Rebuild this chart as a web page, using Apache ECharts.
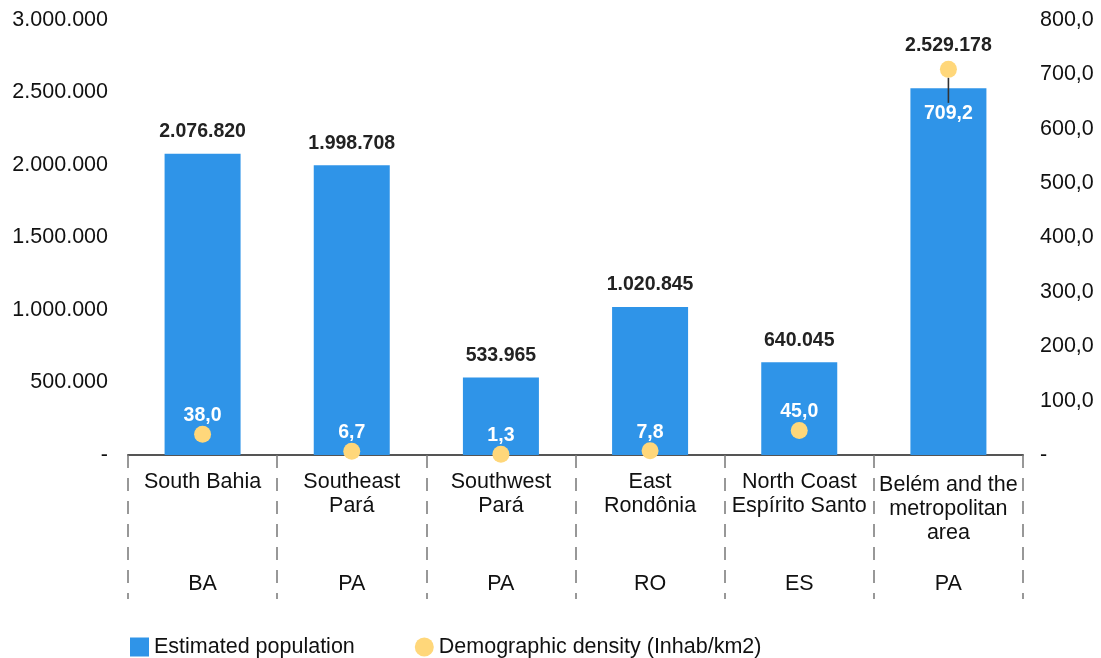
<!DOCTYPE html>
<html>
<head>
<meta charset="utf-8">
<style>
  html, body { margin: 0; padding: 0; background: #fff; }
  #chart { width: 1101px; height: 658px; }
</style>
<script src="https://cdn.jsdelivr.net/npm/echarts@6/dist/echarts.min.js"></script>
</head>
<body>
<div id="chart"></div>
<script>
// Regions and their states
const regions = ['South Bahia', 'Southeast\nPará', 'Southwest\nPará', 'East\nRondônia', 'North Coast\nEspírito Santo', 'Belém and the\nmetropolitan\narea'];
const states = ['BA', 'PA', 'PA', 'RO', 'ES', 'PA'];

// Estimated population (left axis) and demographic density (right axis)
const population = [2076820, 1998708, 533965, 1020845, 640045, 2529178];
const density = [38.0, 6.7, 1.3, 7.8, 45.0, 709.2];

const FONT = '"Liberation Sans", Arial, Helvetica, sans-serif';
const BAR_COLOR = '#2f94e8';
const DOT_COLOR = '#ffd77a';
const FS = 21.5;   // regular text size
const FSB = 19.5;  // bold value labels

function fmtThousands(v) {
  if (v === 0) return '-';
  return String(Math.round(v)).replace(/\B(?=(\d{3})+(?!\d))/g, '.');
}
function fmtDecimal(v) {
  if (v === 0) return '-';
  return v.toFixed(1).replace('.', ',');
}

const lastIdx = population.length - 1;

const chart = echarts.init(document.getElementById('chart'), null, { renderer: 'canvas' });
chart.setOption({
  animation: false,
  textStyle: { fontFamily: FONT },
  grid: { left: 128, right: 78, top: 20, bottom: 203 },
  legend: {
    bottom: -5,
    left: 125,
    itemGap: 60,
    itemWidth: 19,
    itemHeight: 19,
    textStyle: { fontSize: FS, color: '#111', fontFamily: FONT },
    data: [
      { name: 'Estimated population', icon: 'rect' },
      { name: 'Demographic density (Inhab/km2)', icon: 'circle' }
    ]
  },
  xAxis: [
    {
      type: 'category',
      data: regions,
      position: 'bottom',
      axisLine: { show: true, lineStyle: { color: '#555', width: 2 } },
      axisTick: {
        show: true,
        length: 144,
        lineStyle: { color: '#777', width: 1.5, type: [13, 10] }
      },
      axisLabel: {
        interval: 0,
        margin: 15,
        fontSize: FS,
        lineHeight: 24,
        color: '#111',
        verticalAlign: 'top',
        formatter: function (v, i) {
          return i === lastIdx ? '{pad|' + v.split('\n').join('}\n{pad|') + '}' : v;
        },
        rich: { pad: { fontSize: FS, lineHeight: 24, color: '#111', padding: [7, 0, 0, 0] } }
      }
    },
    {
      type: 'category',
      data: states,
      position: 'bottom',
      axisLine: { show: false },
      axisTick: { show: false },
      axisLabel: { interval: 0, margin: 118, fontSize: FS, color: '#111', verticalAlign: 'top' }
    }
  ],
  yAxis: [
    {
      type: 'value',
      min: 0,
      max: 3000000,
      interval: 500000,
      splitLine: { show: false },
      axisLine: { show: false },
      axisTick: { show: false },
      axisLabel: { fontSize: FS, color: '#111', margin: 20, formatter: fmtThousands }
    },
    {
      type: 'value',
      min: 0,
      max: 800,
      interval: 100,
      position: 'right',
      splitLine: { show: false },
      axisLine: { show: false },
      axisTick: { show: false },
      axisLabel: { fontSize: FS, color: '#111', margin: 17, formatter: fmtDecimal }
    }
  ],
  series: [
    {
      name: 'Estimated population',
      type: 'bar',
      xAxisIndex: 0,
      yAxisIndex: 0,
      barWidth: 76,
      itemStyle: { color: BAR_COLOR },
      data: population.map((v, i) => ({
        value: v,
        label: i === lastIdx ? { distance: 33 } : undefined
      })),
      label: {
        show: true,
        position: 'top',
        distance: 12,
        fontSize: FSB,
        fontWeight: 'bold',
        color: '#222',
        formatter: p => fmtThousands(p.value)
      },
      z: 2
    },
    {
      name: 'Demographic density (Inhab/km2)',
      type: 'scatter',
      xAxisIndex: 0,
      yAxisIndex: 1,
      symbol: 'circle',
      symbolSize: 17,
      itemStyle: { color: DOT_COLOR, opacity: 1 },
      data: density.map((v, i) => ({
        value: v,
        // the largest value sits below its dot, joined by a short leader
        label: i === lastIdx ? {
          position: 'bottom',
          distance: 0,
          formatter: p => '{line|}\n{v|' + fmtDecimal(p.value) + '}',
          rich: {
            line: { width: 1.6, height: 25, backgroundColor: '#333', align: 'center' },
            v: { fontSize: FSB, fontWeight: 'bold', color: '#fff', align: 'center', lineHeight: 22 }
          }
        } : undefined
      })),
      label: {
        show: true,
        position: 'top',
        distance: 0,
        fontSize: FSB,
        fontWeight: 'bold',
        color: '#fff',
        formatter: p => fmtDecimal(p.value)
      },
      z: 3
    }
  ]
});
</script>
</body>
</html>
